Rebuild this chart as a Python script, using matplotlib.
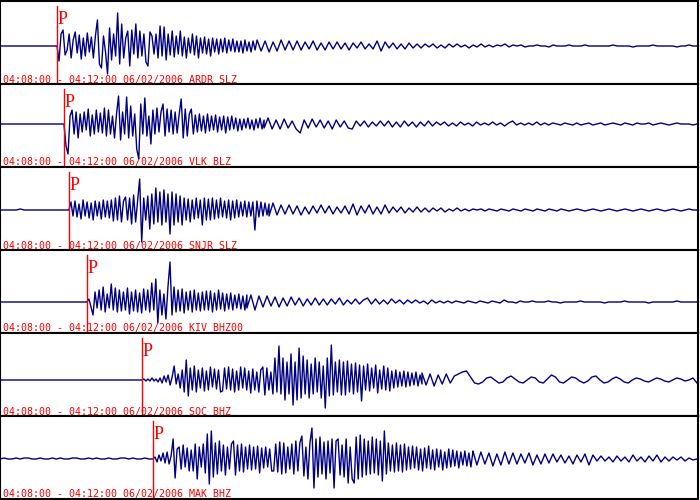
import numpy as np
import matplotlib
matplotlib.use('Agg')
import matplotlib.pyplot as plt

# Record window 04:08:00 - 04:12:00, seconds from start
WINDOW = 240.0
DATE_LABEL = '04:08:00 - 04:12:00 06/02/2006'

stations = ['ARDR', 'VLK', 'SNJR', 'KIV', 'SOC', 'MAK']
channels = ['SLZ', 'BLZ', 'SLZ', 'BHZ00', 'BHZ', 'BHZ']

# P arrival times (s after 04:08:00) and start of the quieter coda (s)
p_times = [19.6, 22.0, 23.7, 29.9, 48.8, 52.6]
coda_times = [88.4, 90.8, 92.5, 84.9, 145.1, 162.6]

# pre-event noise (counts)
pre_ardr = [0, 0]
pre_vlk = [0, 0]
pre_snjr = [0, 0, 0, 0, 0, 1, 0, 0, 0, 0, 0, 0, 0, 0, 0, 0, 0, 0]
pre_kiv = [0, 0]
pre_soc = [0, 0]
pre_mak = [0, 1, 0, 0, 1, 0, 1, 1, 0, 0, 1, 0, 0, 1, 0, 1, 0, 0, 1, 1,
           0, 0, 1, 0, 1, 0, 0, 1, 0, 0, 1, 1, 0, 1, 0, 0, 1, 0, 0]

# strong motion after P (fine sampling)
ardr = [0, -15, 12, 16, -9, -4, 12, -12, 6, 14,
        -7, 11, -13, 8, -10, 13, -6, 9, -12, 10,
        26, -18, -22, 10, -6, -28, 18, -14, 12, -10,
        33, -18, 22, -12, 8, 15, -20, 16, -8, 22,
        -12, 15, -10, 12, -16, -20, 14, 10, -8, 12,
        -12, 20, -10, 19, -14, 12, -9, 15, -11, 10,
        -8, 15, -10, 9, -12, 8, -7, 12, -9, 10,
        -12, 8, -7, 9, -8, 7, -10, 8, -6, 7,
        -8, 7, -6, 8, -7, 6, -5, 7, -6, 5,
        -6, 5, -7, 6, -5, 4, -6, 5, -4, 6]

vlk = [0, -22, -30, 8, 14, -10, 12, -14, 10, -8,
       12, -6, 15, -12, 9, -10, 14, -8, 11, -9,
       16, -12, 14, -10, 8, -14, 10, 28, -16, 12,
       -10, 27, -14, 18, -12, 10, -25, -35, 20, -10,
       26, -12, 8, -20, 14, -10, 16, -8, 12, 20,
       -12, 15, -8, 14, -10, 12, -9, 10, 25, -14,
       15, -12, 10, 15, -10, 9, -8, 10, -7, 8,
       -9, 10, -7, 8, -6, 9, -8, 7, -6, 8,
       -9, 7, -6, 8, -5, 6, -7, 5, -6, 5,
       -4, 6, -5, 4, -6, 5, -4, 6, -5, 4]

snjr = [0, 8, -6, 9, -7, 6, -9, 10, -6, 8,
        -8, 7, -10, 9, -6, 8, -9, 10, -7, 9,
        -8, 10, -11, 12, -10, 14, -12, 9, 13, -10,
        12, -14, 15, -12, 10, 31, -32, 12, -10, 14,
        -19, 16, -14, 22, -12, 18, -15, 20, -12, 16,
        -24, 18, -15, 16, -12, 14, -15, 12, -10, 11,
        -12, 10, -9, 12, -8, 10, -15, 12, -10, 11,
        -10, 12, -9, 10, -8, 12, -7, 9, -8, 10,
        -10, 9, -8, 10, -7, 8, -6, 9, -7, 8,
        -6, 8, -20, 9, -7, 8, -6, 7, -5, 6]

kiv = [0, 3, -5, -13, 10, -6, 12, -8, 15, -10,
       8, -6, 18, -8, 14, -10, 12, -9, 10, -8,
       14, -12, 10, -9, 12, -10, 9, -11, 13, -8,
       12, -10, 19, -8, 23, -21, 12, -13, 8, -17,
       15, 40, -13, 15, -10, 12, -9, 13, -11, 10,
       -8, 11, -10, 12, -8, 9, -9, 10, -8, 11,
       -8, 11, -10, 9, -8, 12, -7, 9, -9, 8,
       -7, 9, -8, 7, -6, 8, -7, 6, -8, 7]

soc = [0, 1, -1, 1, -1, 2, -1, 1, -2, 2,
       -3, 4, -2, 5, -5, 3, 14, -4, 6, -8,
       10, -12, 20, -16, 12, -10, 14, -12, 10, -8,
       12, -11, 9, -10, 13, -7, 11, -9, 10, -12,
       -11, 12, -9, 13, -10, 11, -12, 9, -10, 13,
       -8, 12, -10, 9, -13, 11, -10, 8, -12, 10,
       13, -15, 12, -10, 8, -14, 22, -12, 34, -14,
       22, -20, 18, -14, 26, -25, 18, -20, 32, -18,
       24, -14, 20, -18, 16, -14, 22, -12, 18, -18,
       14, -28, 22, -16, 35, -15, 18, -12, 20, -15,
       18, -15, 19, -12, 16, -14, 17, -12, 15, -21,
       14, -10, 16, -11, 12, -8, 15, -13, 10, -9,
       14, -10, 12, -11, 9, -8, 10, -7, 8, -6,
       9, -7, 8, -6, 7, -5, 8, -6, 5, -4]

mak = [0, 2, -3, 4, -2, 6, -4, 7, -5, 3,
       20, -19, 10, 12, -10, 14, -8, 11, -12, 9,
       -12, 15, -20, 12, -8, 15, -14, 25, -25, 28,
       -18, 16, -15, 18, -12, 14, -16, 12, -10, 15,
       18, -16, 14, -12, 15, -13, 12, -10, 14, -11,
       12, -10, 13, -14, 11, -9, 12, -8, 10, -12,
       -12, 15, -13, 17, -15, 16, -14, 12, -10, 15,
       -15, 18, -12, 16, 23, -17, 12, -20, 16, 31,
       -29, 20, -18, 22, -15, 17, -20, 18, -14, 20,
       -29, 18, 20, -16, 14, -18, 20, -24, 12, -20,
       -24, 22, -20, 24, -18, 20, -16, 18, -15, 22,
       -14, 20, -16, 18, -22, 28, -15, 16, -12, 14,
       -13, 16, -12, 14, -13, 15, -11, 12, -10, 13,
       -9, 12, -11, 10, -12, 11, -9, 13, -10, 9,
       -11, 10, -8, 9, -11, 7, -9, 10, -8, 9,
       -7, 8, -9, 7, -6, 8, -7, 6, -8, 7]

# coda up to end of window (coarser sampling)
ardr_coda = [6, -5, 5, -6, 4, -5, 6, -4, 5, -4,
             5, -4, 4, -3, 5, -4, 3, -4, 4, -3,
             4, -3, 3, -4, 3, -2, 4, -3, 2, -3,
             5, -5, 4, -2, 3, -3, 2, -3, 3, -2,
             2, -2, 2, -1, 2, -2, 1, -2, 2, -1,
             2, -1, 1, -2, 1, -1, 2, -1, 1, -1,
             1, 0, 2, -1, 1, 0, 1, -1, 0, 0,
             1, 0, 0, -1, 1, 0, 0, 0, 1, 0,
             0, 0, 1, 0, 0, 0, 0, 0, 0, 1,
             0, 0, 0, 0, -1, 0, 0, 0, 0, 1,
             0, 0, 0, 0, 0, -1, 0, 0, 1, 0, 0]

vlk_coda = [-4, 6, -5, 4, -5, 5, -4, 3, -5, -9,
            4, -4, 5, -3, 4, -4, 3, -5, 4, -3,
            3, -4, -5, 3, -2, 3, -3, 2, -2, 3,
            -2, 3, -3, 2, -3, 3, -2, 2, -3, 2,
            -2, 3, -2, 2, -1, 2, -2, 1, -2, 2,
            -1, 1, -2, 2, -1, 1, -1, 2, -1, 1,
            -2, 1, 3, -1, 1, -1, 1, -1, 2, -1,
            1, -1, 1, 0, -1, 1, 0, -1, 1, -1,
            0, 1, -1, 0, 1, -1, 0, 1, 0, -1,
            1, 0, -1, 1, 0, 0, 1, -1, 0, 1,
            0, -1, 0, 1, 0, 0, 0, -1, 0]

snjr_coda = [-6, 7, -5, 5, -4, 5, -4, 4, -5, 3,
             -4, 4, -3, 5, -3, 4, -4, 3, -3, 4,
             -4, 6, -5, 4, -3, 5, -4, 3, -4, 5,
             -3, 3, -2, 3, -3, 2, -2, 3, -2, 2,
             -2, 2, -1, 2, -2, 1, -1, 2, -1, 1,
             -1, 1, 0, 1, -1, 1, 0, -1, 1, 0,
             -1, 1, 0, -1, 1, 0, -1, 1, 0, -1,
             1, 0, -1, 1, 0, -1, 0, 1, 0, -1,
             0, 1, 0, -1, 0, 1, 0, -1, 0, 1,
             0, -1, 0, 1, 0, -1, 0, 1, 0, -1,
             0, 1, 0, -1, 0, 1, 0, 0]

kiv_coda = [-6, 7, -8, 6, -5, 6, -4, 5, -5, 4,
            -4, 5, -3, 4, -4, 3, -3, 4, -3, 3,
            -3, 3, -2, 4, -3, 2, -2, 3, -2, 2,
            4, -2, 3, -2, 2, -2, 3, -1, 2, -2,
            2, -1, 2, -1, 1, -2, 2, -1, 1, -1,
            1, -1, 1, 0, -1, 1, 0, -1, 1, 0,
            -1, 1, 0, -1, 2, 0, 0, -1, 1, 0,
            0, 1, 0, 0, 0, 1, 0, 0, -1, 0,
            0, 0, 0, 1, 0, 0, 0, 0, 0, -1,
            0, 0, 0, 0, 1, 0, 0, 0, 0, 0,
            -1, 0, 0, 0, 0, 0, 0, 1, 0, 0,
            0, 0, 0]

soc_coda = [7, -5, 6, -6, 5, -4, 6, -3, 4, 6,
            8, 9, 3, -3, -4, -2, 2, 3, 0, -3,
            -2, 2, 4, 1, -2, -3, 0, 3, 2, -2,
            -3, 1, 5, 3, -2, -3, 0, 3, 2, -1,
            -3, -1, 3, 4, 0, -3, -2, 1, 3, 1,
            -2, -3, 0, 2, 1, -1, -2, 0, 2, 1,
            -1, -2, 0, 2, 1, -1, 0, 2, -3]

mak_coda = [8, -6, 7, -5, 6, -7, 5, -6, 7, -5,
            6, -5, 5, -4, 6, -6, 4, -5, 5, -4,
            5, -3, 4, -4, 3, -5, 4, -3, 5, -6,
            4, -2, 3, -2, 2, -3, 3, -2, 2, -3,
            4, -2, 2, -3, 3, -2, 4, -3, 2, -2,
            2, -1, 2, -2, 1, -1, 0]

pre_traces = [pre_ardr, pre_vlk, pre_snjr, pre_kiv, pre_soc, pre_mak]
traces = [ardr, vlk, snjr, kiv, soc, mak]
codas = [ardr_coda, vlk_coda, snjr_coda, kiv_coda, soc_coda, mak_coda]

# layout (pixels): panel height and trace baseline from panel top
PANEL_H = 83
baselines = [45, 40, 43, 52, 47, 43]
TRACE_COLOR = '#000080'
PICK_COLOR = '#ff0000'

fig = plt.figure(figsize=(7, 5), dpi=100)
fig.patch.set_facecolor('white')

end = WINDOW * 697 / 698
for i in range(len(stations)):
    bottom = (500 - PANEL_H * (i + 1) - 1) / 500
    ax = fig.add_axes([0.0, bottom, 698 / 700, PANEL_H / 500])

    p = p_times[i]
    c = coda_times[i]
    t = np.concatenate([np.linspace(0, p, len(pre_traces[i])),
                        np.linspace(p, c, len(traces[i])),
                        np.linspace(c, end, len(codas[i]))])
    y = np.concatenate([pre_traces[i], traces[i], codas[i]])

    ax.plot(t, y, color=TRACE_COLOR, lw=1.0)

    # P pick
    ax.axvline(p, ymin=1 / PANEL_H, ymax=(PANEL_H - 5) / PANEL_H,
               color=PICK_COLOR, lw=1.0)
    ax.text(p + 0.3, 1 - 10 / PANEL_H, 'P', transform=ax.get_xaxis_transform(),
            color=PICK_COLOR, fontsize=13, family='Liberation Serif',
            ha='left', va='top')

    ax.text(3 / 698, 1.5 / PANEL_H,
            f'{DATE_LABEL} {stations[i]} {channels[i]}',
            transform=ax.transAxes, color=PICK_COLOR, fontsize=7.2,
            family='DejaVu Sans Mono', ha='left', va='baseline')

    b = baselines[i]
    ax.set_ylim(-(PANEL_H - b), b)
    ax.set_xlim(0, WINDOW)
    ax.set_xticks([])
    ax.set_yticks([])
    for side in ['top', 'bottom', 'right']:
        ax.spines[side].set_linewidth(1.5)
    ax.spines['left'].set_linewidth(0.8)

fig.savefig('out.png', dpi=100, facecolor='white')
